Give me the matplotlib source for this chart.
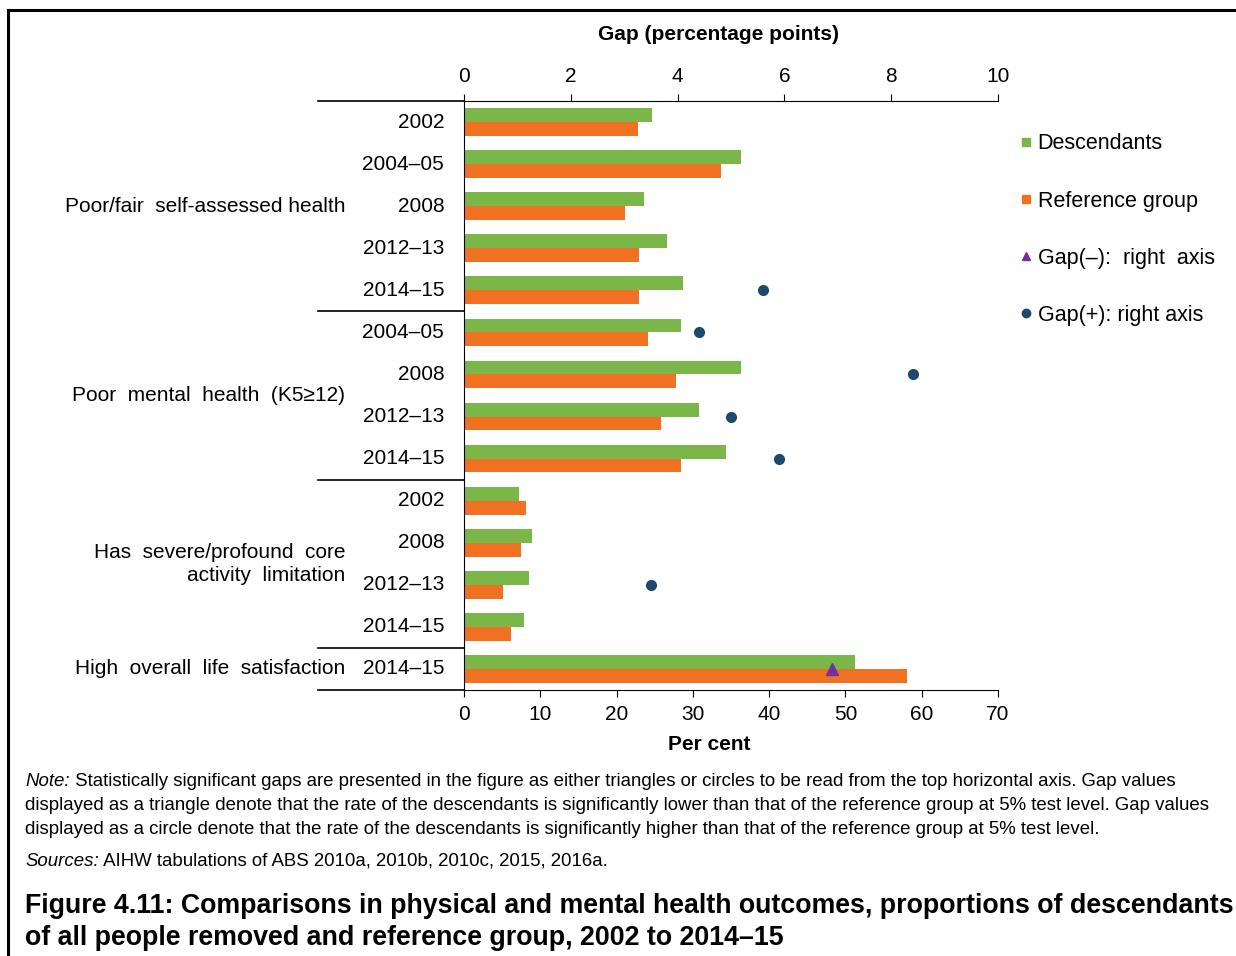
import matplotlib.pyplot as plt
from matplotlib.lines import Line2D

# rows top -> bottom
years = ['2002', '2004–05', '2008', '2012–13', '2014–15',
         '2004–05', '2008', '2012–13', '2014–15',
         '2002', '2008', '2012–13', '2014–15',
         '2014–15']
groups = ['Poor/fair  self-assessed health', 'Poor  mental  health  (K5≥12)',
          'Has  severe/profound  core\nactivity  limitation', 'High  overall  life  satisfaction']
group_rows = [(0, 4), (5, 8), (9, 12), (13, 13)]

descendants = [24.7, 36.3, 23.6, 26.6, 28.7,
               28.5, 36.3, 30.8, 34.3,
               7.2, 8.9, 8.5, 7.9,
               51.3]
reference = [22.8, 33.7, 21.1, 23.0, 23.0,
             24.1, 27.8, 25.8, 28.5,
             8.1, 7.5, 5.1, 6.2,
             58.1]
# significant gaps (row index, gap)
gap_pos_rows = [4, 5, 6, 7, 8, 11]
gap_pos = [5.6, 4.4, 8.4, 5.0, 5.9, 3.5]
gap_neg_rows = [13]
gap_neg = [6.9]

green = '#7ab648'
orange = '#f07122'
navy = '#1d4a6b'
purple = '#7030a0'

plt.rcParams['font.family'] = ['Liberation Sans', 'DejaVu Sans']

fig = plt.figure(figsize=(12.36, 9.56), dpi=100)
ax = fig.add_axes([464/1236, 1-690/956, 534/1236, 589/956])

h = 0.33
rows = list(range(len(years)))
ax.barh([r - h/2 for r in rows], descendants, height=h, color=green)
ax.barh([r + h/2 for r in rows], reference, height=h, color=orange)
ax.set_ylim(13.5, -0.5)
ax.set_xlim(0, 70)
ax.set_xticks(range(0, 71, 10))
ax.set_yticks([])
ax.spines['right'].set_visible(False)
ax.spines['top'].set_visible(False)
ax.tick_params(axis='x', direction='out', length=5, pad=6, labelsize=15)
ax.set_xlabel('Per cent', fontsize=15, fontweight='bold')
ax.xaxis.set_label_coords((709-464)/534, -(745-690)/589, transform=ax.transAxes)
ax.xaxis.label.set_va('center')

ax2 = ax.twiny()
ax2.set_xlim(0, 10)
ax2.set_xticks(range(0, 11, 2))
ax2.tick_params(axis='x', direction='out', length=5, pad=6, labelsize=15)
for s in ['right', 'bottom', 'left']:
    ax2.spines[s].set_visible(False)
ax2.set_xlabel('Gap (percentage points)', fontsize=15, fontweight='bold')
ax2.xaxis.set_label_coords((719-464)/534, 1+(101-35)/589, transform=ax2.transAxes)
ax2.xaxis.label.set_va('center')
ax2.plot(gap_pos, gap_pos_rows, 'o', color=navy, markersize=7, clip_on=False)
ax2.plot(gap_neg, gap_neg_rows, '^', color=purple, markersize=9, clip_on=False)
ax2.set_ylim(13.5, -0.5)

# year labels and group labels
for r, y in enumerate(years):
    ax.text(-0.037, r, y, transform=ax.get_yaxis_transform(), ha='right', va='center',
            fontsize=15)
for g, (a, b) in zip(groups, group_rows):
    ax.text(-0.222, (a + b) / 2, g, transform=ax.get_yaxis_transform(), ha='right',
            va='center', fontsize=15, linespacing=1.25)
for y in [-0.5, 4.5, 8.5, 12.5, 13.5]:
    ax.plot([-0.273, 0], [y, y], transform=ax.get_yaxis_transform(), color='black',
            lw=1.2, clip_on=False)

handles = [Line2D([], [], marker='s', ls='', color=green, markersize=6),
           Line2D([], [], marker='s', ls='', color=orange, markersize=6),
           Line2D([], [], marker='^', ls='', color=purple, markersize=6),
           Line2D([], [], marker='o', ls='', color=navy, markersize=6)]
fig.legend(handles, ['Descendants', 'Reference group', 'Gap(–):  right  axis', 'Gap(+): right axis'],
           loc='upper left', bbox_to_anchor=(1000/1236, 1-114/956), frameon=False,
           fontsize=15.5, labelspacing=1.68, handlelength=0.6, handletextpad=0.25)

# frame
fig.add_artist(Line2D([8/1236, 1], [1-10/956, 1-10/956], color='black', lw=2.2))
fig.add_artist(Line2D([8/1236, 8/1236], [0, 1-10/956], color='black', lw=2.2))

# notes
note_lines = ['Statistically significant gaps are presented in the figure as either triangles or circles to be read from the top horizontal axis. Gap values',
              'displayed as a triangle denote that the rate of the descendants is significantly lower than that of the reference group at 5% test level. Gap values',
              'displayed as a circle denote that the rate of the descendants is significantly higher than that of the reference group at 5% test level.']
fs = 13.4
t = fig.text(25/1236, 1-781/956, 'Note:', style='italic', fontsize=fs, va='center')
ax.annotate(' ' + note_lines[0], xy=(1, 0.5), xycoords=t, va='center', fontsize=fs,
            annotation_clip=False)
fig.text(25/1236, 1-805/956, note_lines[1], fontsize=fs, va='center')
fig.text(25/1236, 1-829/956, note_lines[2], fontsize=fs, va='center')
t2 = fig.text(25/1236, 1-861/956, 'Sources:', style='italic', fontsize=fs, va='center')
ax.annotate(' AIHW tabulations of ABS 2010a, 2010b, 2010c, 2015, 2016a.', xy=(1, 0.5),
            xycoords=t2, va='center', fontsize=fs, annotation_clip=False)

fig.text(25/1236, 1-906/956, 'Figure 4.11: Comparisons in physical and mental health outcomes, proportions of descendants',
         fontsize=19.3, fontweight='bold', va='center')
fig.text(25/1236, 1-938/956, 'of all people removed and reference group, 2002 to 2014–15',
         fontsize=19.3, fontweight='bold', va='center')

fig.savefig('out.png', dpi=100)
